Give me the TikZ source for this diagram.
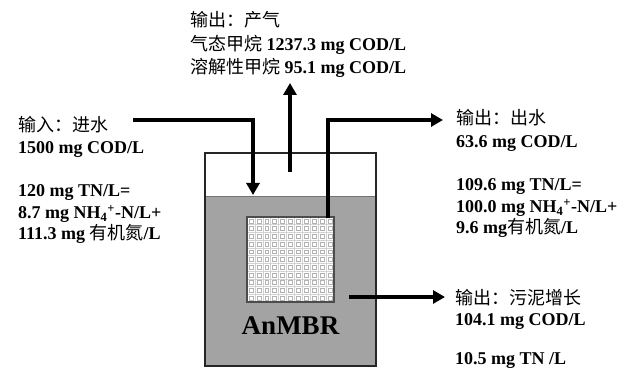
\documentclass[tikz,border=0pt]{standalone}
\usepackage{fontspec}
\setmainfont{Liberation Serif}
\newfontfamily\cjkfont{Noto Sans CJK SC}
\newcommand\zhtext[1]{{\cjkfont\mdseries #1}}
\usetikzlibrary{arrows.meta}
\begin{document}
\begin{tikzpicture}[x=1pt,y=-1pt,
  txt/.style={anchor=base west,inner sep=0pt,font=\fontsize{18}{20}\selectfont\bfseries},
  flow/.style={line width=3.6pt,-{Triangle[length=12pt,width=13pt]}},
  tankline/.style={draw=black!85,line width=1.5pt},
  gridline/.style={draw=black!18,line width=0.6pt},
  cellsq/.style={draw=black!30,line width=0.5pt}]
\useasboundingbox (0,0) rectangle (625,371);
% tank
\fill[fill=black!36] (205,196) rectangle (376,366);
\draw[black!55,line width=0.8pt] (205,196) -- (376,196);
\draw[tankline] (205,153) rectangle (376,366);
% membrane
\coordinate (memNW) at (247,217);
\coordinate (memSE) at (334,302);
\fill[white] (memNW) rectangle (memSE);
\foreach \k in {1,...,10}{
  \draw[gridline] ({247+\k*7.91},217) -- ({247+\k*7.91},302);
  \draw[gridline] (247,{217+\k*7.73}) -- (334,{217+\k*7.73});
}
\foreach \i in {0,...,10}{
  \foreach \j in {0,...,10}{
    \draw[cellsq] ({247+\i*7.91+2},{217+\j*7.73+1.9}) rectangle ++(3.9,3.9);
  }
}
\draw[draw=black!70,line width=1.4pt] (memNW) rectangle (memSE);
\node[anchor=base,inner sep=0pt,font=\fontsize{27}{30}\selectfont\bfseries] (anmbr) at (290.5,335) {AnMBR};
% connectors
\coordinate (inStart) at (133,120);
\coordinate (inCorner) at (253,120);
\coordinate (inEnd) at (253,195);
\draw[flow] (inStart) -- (inCorner) -- (inEnd);
\coordinate (gasStart) at (290,172);
\coordinate (gasEnd) at (290,83);
\draw[flow] (gasStart) -- (gasEnd);
\coordinate (effStart) at (328,218);
\coordinate (effCorner) at (328,120);
\coordinate (effEnd) at (443,120);
\draw[flow] (effStart) -- (effCorner) -- (effEnd);
\coordinate (slStart) at (349,297);
\coordinate (slEnd) at (445,297);
\draw[flow] (slStart) -- (slEnd);
% left texts
\node[txt] (l1) at (18,132) {\zhtext{输入：进水}};
\node[txt] (l2) at (18,154) {1500 mg COD/L};
\node[txt] (l3) at (18,197) {120 mg TN/L=};
\node[txt] (l4) at (18,218.5) {8.7 mg NH\textsubscript{4}\textsuperscript{+}-N/L+};
\node[txt] (l5) at (18,240) {111.3 mg \zhtext{有机氮}/L};
% top texts
\node[txt] (t1) at (190,27) {\zhtext{输出：产气}};
\node[txt] (t2) at (190,51) {\zhtext{气态甲烷} 1237.3 mg COD/L};
\node[txt] (t3) at (190,74) {\zhtext{溶解性甲烷} 95.1 mg COD/L};
% right texts
\node[txt] (r1) at (456,125) {\zhtext{输出：出水}};
\node[txt] (r2) at (456,148) {63.6 mg COD/L};
\node[txt] (r3) at (456,191) {109.6 mg TN/L=};
\node[txt] (r4) at (456,212.5) {100.0 mg NH\textsubscript{4}\textsuperscript{+}-N/L+};
\node[txt] (r5) at (456,234) {9.6 mg\zhtext{有机氮}/L};
% bottom right texts
\node[txt] (s1) at (455,305) {\zhtext{输出：污泥增长}};
\node[txt] (s2) at (455,326) {104.1 mg COD/L};
\node[txt] (s3) at (455,365) {10.5 mg TN /L};
\end{tikzpicture}
\end{document}
